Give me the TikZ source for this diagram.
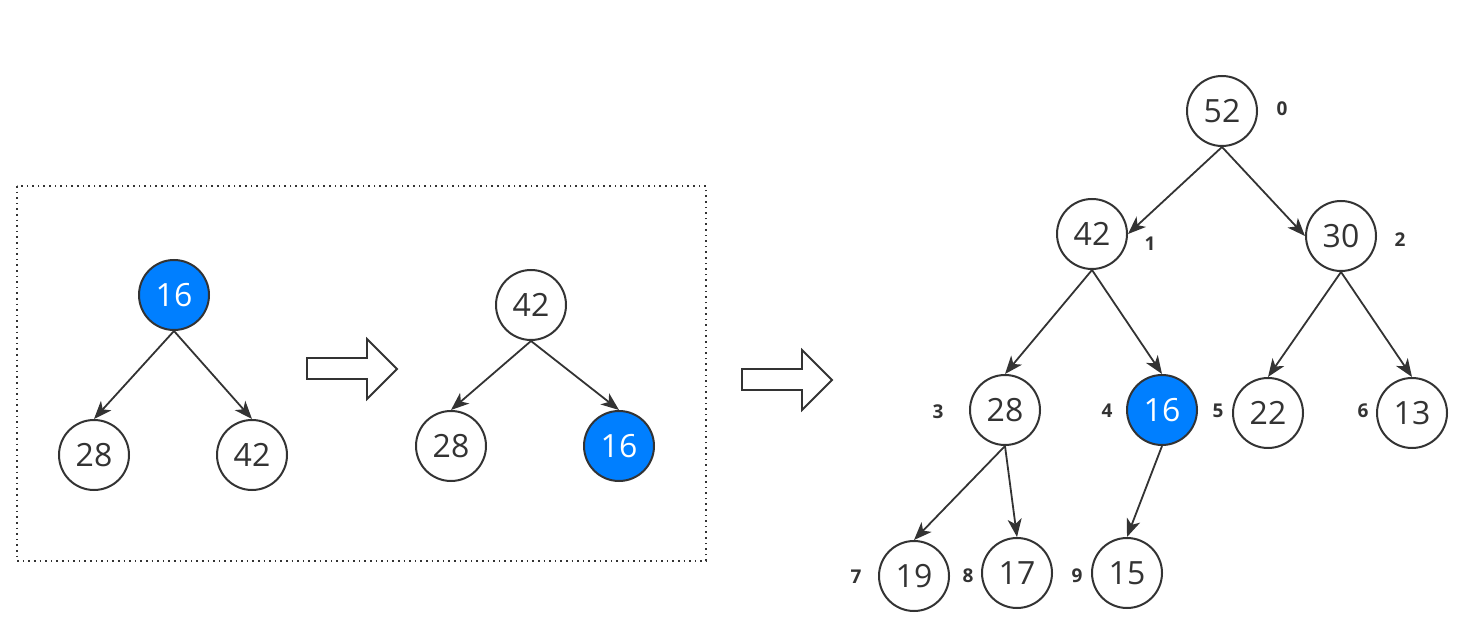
\documentclass[tikz,border=0pt]{standalone}
\usepackage{fontspec}
\setmainfont{Open Sans}
\usepackage{tikz}
\usetikzlibrary{arrows.meta,positioning}
\definecolor{heapblue}{HTML}{007FFF}
\definecolor{ink}{HTML}{333333}

\begin{document}
\begin{tikzpicture}[x=0.5pt,y=-0.5pt]
\tikzstyle{every node}+=[inner sep=0pt]
\tikzstyle{key}=[draw=ink,line width=1pt,circle,minimum size=35pt,fill=white,text=ink,font=\fontsize{16}{18}\selectfont]
\tikzstyle{hot}=[key,fill=heapblue,text=white]
\tikzstyle{idx}=[text=ink,font=\fontsize{9.5}{11}\selectfont\bfseries]
\tikzstyle{edge}=[draw=ink,line width=0.9pt,-{Stealth[length=9pt,width=7pt,inset=2.5pt]}]
\tikzstyle{bigarrow}=[draw=ink,line width=0.9pt,fill=white]
\useasboundingbox (0,0) rectangle (1482,635);
\draw [ink,line width=0.8pt,dotted] (17,186) rectangle (706,561);
% first step
\node [hot] (a16) at (174,295) {16};
\node [key] (a28) at (94,455) {28};
\node [key] (a42) at (252,455) {42};
\draw [edge] (a16.south) -- (a28.north);
\draw [edge] (a16.south) -- (a42.north);
\draw [bigarrow] (307,358) -- (367,358) -- (367,339) -- (397,369) -- (367,399) -- (367,379) -- (307,379) -- cycle;
% after swap
\node [key] (b42) at (531,305) {42};
\node [key] (b28) at (451,446) {28};
\node [hot] (b16) at (619,446) {16};
\draw [edge] (b42.south) -- (b28.north);
\draw [edge] (b42.south) -- (b16.north);
\draw [bigarrow] (742,369) -- (802,369) -- (802,350) -- (832,380) -- (802,410) -- (802,390) -- (742,390) -- cycle;
% whole heap
\node [key] (n52) at (1222,111) {52};
\node [key] (n42) at (1092,234) {42};
\node [key] (n30) at (1341,236) {30};
\node [key] (n28) at (1005,410) {28};
\node [hot] (n16) at (1162,410) {16};
\node [key] (n22) at (1268,413) {22};
\node [key] (n13) at (1412,413) {13};
\node [key] (n19) at (914,576) {19};
\node [key] (n17) at (1017,573) {17};
\node [key] (n15) at (1127,573) {15};
\node [idx] (i0) at (1282,109) {0};
\node [idx] (i1) at (1150,244) {1};
\node [idx] (i2) at (1400,240) {2};
\node [idx] (i3) at (938,412) {3};
\node [idx] (i4) at (1107,411) {4};
\node [idx] (i5) at (1218,411) {5};
\node [idx] (i6) at (1363,411) {6};
\node [idx] (i7) at (856,577) {7};
\node [idx] (i8) at (968,576) {8};
\node [idx] (i9) at (1077,576) {9};
\draw [edge] (n52.south) -- (n42.east);
\draw [edge] (n52.south) -- (n30.west);
\draw [edge] (n42.south) -- (n28.north);
\draw [edge] (n42.south) -- (n16.north);
\draw [edge] (n30.south) -- (n22.north);
\draw [edge] (n30.south) -- (n13.north);
\draw [edge] (n28.south) -- (n19.north);
\draw [edge] (n28.south) -- (n17.north);
\draw [edge] (n16.south) -- (n15.north);
\end{tikzpicture}
\end{document}
